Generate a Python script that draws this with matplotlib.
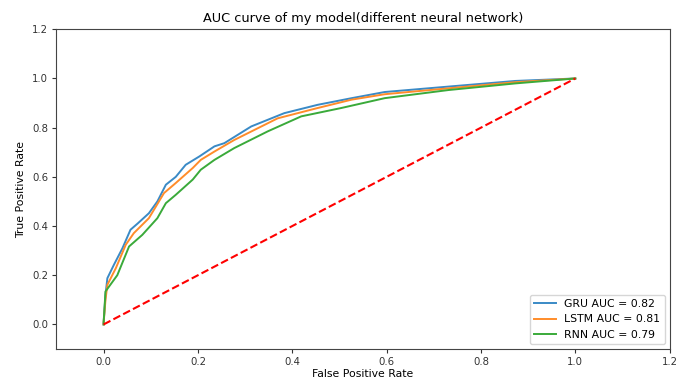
import matplotlib
matplotlib.use("Agg")
import matplotlib.pyplot as plt

gru_fpr = [0.0, 0.0, 0.004, 0.008, 0.022, 0.040, 0.057, 0.072, 0.096, 0.114, 0.132, 0.153, 0.174, 0.203,
           0.235, 0.256, 0.313, 0.383, 0.454, 0.526, 0.596, 0.731, 0.873, 1.0]
gru_tpr = [0.0, 0.005, 0.12, 0.188, 0.243, 0.31, 0.385, 0.41, 0.452, 0.50, 0.568, 0.60, 0.649, 0.683,
           0.724, 0.737, 0.805, 0.859, 0.893, 0.92, 0.945, 0.967, 0.99, 1.0]

lstm_fpr = [0.0, 0.0, 0.004, 0.008, 0.026, 0.047, 0.064, 0.096, 0.128, 0.153, 0.189, 0.206, 0.235,
            0.277, 0.369, 0.454, 0.526, 0.596, 0.731, 0.873, 1.0]
lstm_tpr = [0.0, 0.005, 0.10, 0.161, 0.229, 0.324, 0.371, 0.432, 0.534, 0.575, 0.636, 0.669, 0.703,
            0.75, 0.838, 0.88, 0.914, 0.936, 0.96, 0.985, 1.0]

rnn_fpr = [0.0, 0.0, 0.004, 0.029, 0.054, 0.082, 0.114, 0.132, 0.153, 0.189, 0.206, 0.235, 0.277,
           0.348, 0.419, 0.504, 0.596, 0.731, 0.873, 1.0]
rnn_tpr = [0.0, 0.005, 0.134, 0.20, 0.317, 0.364, 0.432, 0.493, 0.527, 0.589, 0.629, 0.669, 0.717,
           0.785, 0.846, 0.88, 0.92, 0.953, 0.98, 1.0]

labels = ["GRU AUC = 0.82", "LSTM AUC = 0.81", "RNN AUC = 0.79"]
diag = [0.0, 1.0]

fig = plt.figure(figsize=(6.84, 3.78), dpi=100)
ax = fig.add_axes([0.0825, 0.0767, 0.8965, 0.8458])
fs = 7.8
ax.plot(gru_fpr, gru_tpr, color="#3a8ac6", lw=1.4, label=labels[0])
ax.plot(lstm_fpr, lstm_tpr, color="#ff8c2a", lw=1.4, label=labels[1])
ax.plot(rnn_fpr, rnn_tpr, color="#3aaa3a", lw=1.4, label=labels[2])
ax.plot(diag, diag, "r--", lw=1.5)
ax.set_xlim(-0.1, 1.2)
ax.set_ylim(-0.1, 1.2)
ax.set_xticks([0.0, 0.2, 0.4, 0.6, 0.8, 1.0, 1.2])
ax.set_yticks([0.0, 0.2, 0.4, 0.6, 0.8, 1.0, 1.2])
ax.tick_params(labelsize=7.3, length=3, pad=3, colors="#333333")
for s in ax.spines.values():
    s.set_color("#444444")
ax.set_xlabel("False Positive Rate", fontsize=fs, labelpad=1)
ax.set_ylabel("True Positive Rate", fontsize=fs, labelpad=4)
ax.set_title("AUC curve of my model(different neural network)", fontsize=9.3, pad=5)
ax.legend(loc="lower right", fontsize=fs, borderaxespad=0.45)
fig.savefig("out.png", dpi=100)
